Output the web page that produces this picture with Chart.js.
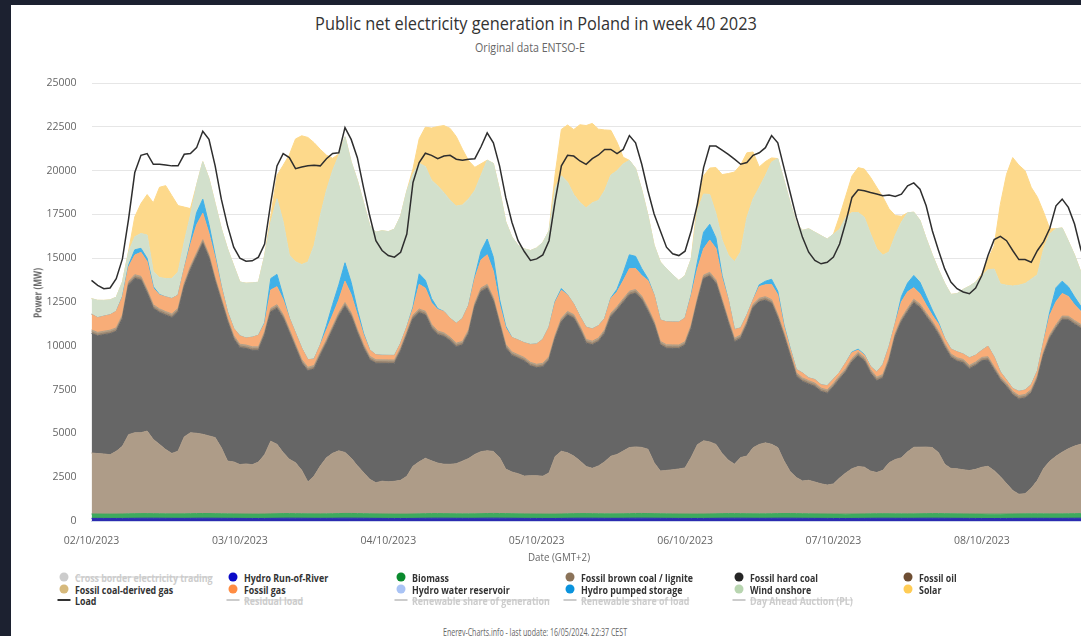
<!DOCTYPE html>
<html>
<head>
<meta charset="utf-8">
<title>Public net electricity generation in Poland in week 40 2023</title>
<script src="https://cdn.jsdelivr.net/npm/chart.js@4.4.1/dist/chart.umd.min.js"></script>
<style>
  html, body { margin: 0; padding: 0; }
  body { width: 1081px; height: 636px; overflow: hidden; position: relative; background: #1c2130; font-family: "Open Sans", sans-serif; }
  #card { position: absolute; left: 11px; top: 5px; width: 1200px; height: 700px; background: #ffffff; }
  #chartBox { position: absolute; left: 11px; top: 60px; width: 1150px; height: 500px; }
  .txt { position: absolute; white-space: nowrap; line-height: 1; }
  .dot { position: absolute; width: 9px; height: 9px; border-radius: 50%; transform: translate(-50%, -50%); }
  .dash { position: absolute; width: 13px; height: 2px; transform: translate(-50%, -50%); }
</style>
</head>
<body>
<div id="card"></div>
<div id="chartBox"><canvas id="chart" width="1150" height="500"></canvas></div>

<script>
// --- 1. THE DATA (MW, one value per hour, Monday 02/10 00:00 to Sunday 08/10 23:00) ---

const dayLabels = ['02/10/2023', '03/10/2023', '04/10/2023', '05/10/2023', '06/10/2023', '07/10/2023', '08/10/2023'];

const hydroRunOfRiver = [
  150,150,148,147,147,148,152,156,158,160,160,158,156,154,152,152,154,158,160,160,158,156,154,152,
  150,148,147,146,148,152,156,160,162,160,158,156,154,153,154,156,160,163,162,160,158,155,152,150,
  148,147,146,146,149,153,157,160,161,160,158,156,155,154,155,158,162,163,161,159,157,154,151,149,
  148,147,146,147,150,155,158,160,160,159,157,155,154,154,156,159,162,162,160,158,156,153,151,149,
  148,147,147,148,151,155,158,160,161,160,158,156,155,155,157,160,161,160,158,156,154,152,150,149,
  147,146,146,147,149,152,155,157,158,157,156,155,154,155,157,159,160,159,157,155,153,151,149,148,
  146,145,145,146,148,150,152,154,155,155,154,153,153,154,156,158,159,158,156,154,152,150,149,148
];

const biomass = [
  250,248,247,246,248,252,258,262,263,262,258,255,253,252,254,258,263,267,268,266,262,258,254,252,
  250,248,247,247,249,254,260,263,262,259,256,254,252,252,255,259,264,268,267,264,260,256,253,251,
  249,248,247,247,250,256,261,264,263,260,257,254,252,253,256,260,265,268,266,263,259,255,252,250,
  249,248,247,248,251,256,261,263,262,259,256,254,253,254,257,261,266,267,265,262,258,255,252,250,
  249,248,248,249,252,257,262,264,263,260,257,255,254,255,258,262,265,265,263,260,257,254,252,250,
  248,247,246,247,249,252,256,258,258,256,254,253,252,253,256,260,263,263,261,258,255,252,250,249,
  248,247,246,246,248,251,254,256,256,255,253,252,252,253,256,260,263,263,261,258,255,252,250,249
];

const brownCoal = [
  3480,3450,3430,3390,3580,3860,4520,4620,4620,4710,4240,3960,3670,3450,3580,4390,4620,4580,4520,4430,4340,3770,3010,2970,
  2820,2860,2820,2970,3390,4150,3960,3480,3100,2910,2480,1820,2160,2730,3200,3450,3580,3480,3160,2730,2350,1970,1780,1870,
  1840,1870,1930,2160,2730,2970,3160,3010,2880,2820,2820,2860,3010,3160,3390,3540,3580,3540,3200,2540,2380,2290,2160,2190,
  2190,2160,2350,3290,3580,3480,3290,3010,2690,2590,2730,2970,3290,3390,3580,3770,3800,3770,3670,2910,2440,2480,2520,2570,
  2630,3240,3960,4180,4110,3960,3430,3050,2820,3200,3290,3770,3960,4050,3960,3770,3010,2400,2060,1870,1910,1820,1720,1650,
  1720,2060,2350,2590,2710,2670,2440,2350,2480,2910,3100,3200,3540,3800,3800,3800,3770,3480,2820,2590,2570,2520,2480,2550,
  2670,2730,2480,2140,1740,1340,1120,1150,1460,1910,2590,3010,3290,3520,3710,3860,3960,4000,4000,3950,3900,3900,3850,3850
];

const hardCoal = [
  6820,6720,6810,6910,6850,7290,8530,8810,8710,7860,7480,7530,7670,7760,7950,8560,9280,10080,10890,10130,8900,8330,7950,7010,
  6670,6590,6530,6380,6820,7380,7760,7670,7200,6540,6120,6340,6110,6300,6530,7040,7670,8340,8090,7570,7100,6820,6820,6730,
  6760,6730,7370,8050,8420,8510,8180,7580,7330,7290,7050,6680,6630,7140,8430,9130,9280,8560,7570,6910,6650,6590,6570,6270,
  6160,6250,6440,6730,7380,7860,7860,7480,7040,7050,7100,7330,7960,8240,8480,8710,8770,8420,7860,7860,7200,6970,6930,6880,
  7010,7350,8140,9250,9470,9180,8580,7820,6980,6800,7480,7990,8140,8140,8050,7380,7100,6580,5780,5680,5490,5450,5270,5240,
  5550,5650,5770,6100,6320,6060,5590,5240,5260,5780,7010,7760,7990,8240,7960,7450,7000,6720,6680,6330,6140,6100,5810,5930,
  6080,6060,5740,5510,5530,5460,5430,5460,5430,5780,6480,7010,7300,7560,7350,6950,6630,6400,6200,6100,6050,6000,5950,5950
];

const fossilOil = [
  95,95,94,94,95,97,100,102,102,101,99,98,97,97,98,100,103,105,106,105,102,99,97,96,
  95,94,94,93,95,98,101,102,101,99,97,96,95,95,97,100,103,105,104,102,99,97,95,94,
  94,93,93,94,96,100,102,103,102,100,98,97,96,97,99,102,105,106,104,101,98,96,95,94,
  94,93,93,95,98,101,103,103,101,99,97,96,96,97,100,103,105,105,103,100,97,95,94,93,
  93,94,96,99,102,103,102,100,98,96,95,95,96,98,101,103,104,102,99,96,94,93,92,92,
  92,92,93,94,96,98,99,100,100,99,98,98,99,100,102,104,104,102,99,96,94,93,92,92,
  92,92,93,94,95,96,97,97,96,96,96,97,99,101,103,104,103,101,98,96,94,93,92,92
];

const coalDerivedGas = [
  105,105,104,104,105,106,108,110,110,109,108,107,106,106,107,109,111,112,113,112,110,108,106,105,
  105,104,104,103,105,107,109,110,109,108,107,106,105,105,107,109,111,112,111,110,108,106,105,104,
  104,103,103,104,106,108,110,111,110,109,107,106,106,107,108,110,112,113,111,109,107,106,105,104,
  104,103,103,105,107,109,111,111,109,108,107,106,106,107,109,111,112,112,110,108,106,105,104,103,
  103,104,106,108,110,111,110,109,107,106,105,105,106,107,109,111,111,110,108,106,104,103,102,102,
  102,102,103,104,106,107,108,108,108,107,107,107,108,109,110,112,112,110,108,106,104,103,102,102,
  102,102,103,104,105,106,106,106,106,106,106,107,108,110,111,112,111,109,107,105,104,103,102,102
];

const fossilGas = [
  900,840,860,880,940,1030,840,1120,1370,1600,940,790,840,880,750,840,1220,1600,1510,1220,1140,650,370,410,
  480,400,550,660,460,1050,1030,840,650,650,650,430,370,410,560,650,740,1220,1030,840,560,360,280,260,
  260,260,260,280,370,1410,1320,1220,1220,1220,1080,1130,1310,1410,1410,1600,1690,1500,940,940,820,840,840,1020,
  1160,1370,1690,1880,1600,940,600,550,700,700,700,650,840,840,1030,1280,1190,1170,1560,1510,1220,1310,1310,1310,
  1350,1690,1690,1500,1840,1790,1220,1130,500,400,370,240,670,680,860,1130,370,230,180,280,160,200,190,240,
  240,190,330,330,120,140,180,290,560,650,560,940,940,660,590,450,330,400,300,280,340,310,430,390,
  400,600,550,270,180,160,240,250,280,270,560,1120,1310,1290,1130,900,740,650,600,600,580,580,570,560
];

const pumpedStorage = [
  0,0,0,0,0,30,100,300,230,190,90,30,0,0,0,0,150,700,800,500,150,30,0,0,
  0,0,0,0,50,650,700,200,0,0,0,0,0,0,250,600,850,1050,700,300,80,0,0,0,
  0,0,0,0,100,600,450,250,60,0,0,0,0,0,100,500,900,800,300,100,0,0,0,0,
  0,0,0,50,100,0,0,0,0,0,0,0,30,150,450,800,700,400,100,0,0,0,0,0,
  0,50,400,950,900,600,150,0,0,0,0,0,100,200,300,200,80,30,0,0,0,0,0,0,
  0,0,0,30,60,30,0,0,0,0,0,300,500,700,650,500,300,100,0,0,0,0,0,0,
  0,0,0,0,0,0,0,0,0,0,0,200,800,700,550,450,300,150,0,0,0,0,0,0
];

const windOnshore = [
  890,990,900,850,810,830,750,740,850,1330,850,970,1050,1140,1320,1520,1550,1570,2140,2630,2960,3290,3600,3590,
  3070,3130,3100,3030,3830,3220,4320,4260,3600,4070,4770,5580,6480,7380,7710,7640,7390,7190,6880,7370,7450,7110,7000,7110,
  7060,7210,7260,7760,7580,6310,6490,6750,7000,6780,6730,6690,6480,6060,4920,4330,4500,5360,6240,5960,5740,5400,5360,5360,
  5480,5530,5490,6480,6440,6440,6250,6500,6810,7200,7150,7300,7020,6760,6220,5390,5020,4490,3630,2840,3310,3030,2690,2370,
  2420,2030,2920,2180,1700,1400,2020,2550,3870,4340,5560,5770,5560,6030,6690,7570,8250,8300,8330,8140,8510,8410,8510,8370,
  8270,8170,8280,7960,7800,7830,7570,7050,6250,5400,5020,4250,4010,3610,3540,3300,3150,3000,3140,3120,3320,3690,4090,4170,
  4260,4370,5020,5020,5410,5850,6060,6080,6020,5490,5300,4440,3370,3040,2610,2390,1970,1800,1700,1650,1600,1550,1500,1450
];

const solar = [
  0,0,0,0,0,0,50,1140,1710,2310,3940,5150,5300,4730,3790,1990,380,0,0,0,0,0,0,0,
  0,0,0,0,0,370,1330,3220,5720,7010,7350,7110,5870,3790,2020,700,80,0,0,0,0,0,0,0,
  0,0,0,0,300,1400,2250,2980,3390,3830,4110,3970,3180,2180,1320,660,0,0,0,0,0,0,0,0,
  0,0,0,800,2650,3260,3710,4440,4700,4530,4070,3460,2550,1630,380,0,0,0,0,0,0,0,0,0,
  0,0,470,1040,1510,2620,3740,4650,5120,4960,3700,2680,1170,800,240,0,0,0,0,0,0,0,0,0,
  0,750,1230,2090,2560,2750,3220,3500,3320,2460,1130,330,0,0,0,0,0,0,0,0,0,0,0,0,
  100,600,1330,4550,6330,7330,6850,6440,5240,4420,2090,290,0,0,0,0,0,0,0,0,0,0,0,0
];

const load = [
  13730,13450,13260,13300,13830,14960,17240,19890,20870,20970,20360,20360,20320,20270,20270,20930,20970,21310,22250,21780,20270,18370,16860,15630,
  15000,14830,14850,15060,15810,18180,20270,20970,20740,20110,20210,20270,20300,20270,20680,20980,21020,22450,21780,20740,19030,17420,16000,15440,
  15150,15060,15340,16380,19320,20460,20990,20870,20680,20830,20870,20650,20590,20650,20680,21360,22150,21590,20270,18470,17050,16000,15380,14870,
  14960,15190,16000,18280,20270,20870,20830,20550,20360,20680,20890,21210,21210,20970,21210,22000,21590,20360,18850,17520,16570,15630,15250,15150,
  15400,16570,18090,20170,21400,21400,21170,20930,20650,20360,20460,20870,21020,21310,22000,21590,20170,18750,17330,16190,15340,14870,14680,14770,
  15060,15810,17050,18470,18900,18850,18750,18660,18560,18600,18520,18660,19130,19300,18940,17990,16570,15440,14390,13640,13260,13070,12970,13300,
  14010,15150,16060,16250,16000,15440,14920,14920,14770,15440,15950,16710,17990,18370,17900,16950,15530,14500,13900,13500,13300,13200,13150,13100
];

// legend rows as shown under the chart: [name, colour, symbol, switched off]
const legendRows = [
  [['Cross border electricity trading', '#cccccc', 'dot', true], ['Hydro Run-of-River', '#0a0ac8', 'dot', false], ['Biomass', '#0a8a2e', 'dot', false],
   ['Fossil brown coal / lignite', '#8b7359', 'dot', false], ['Fossil hard coal', '#252525', 'dot', false], ['Fossil oil', '#6e4e33', 'dot', false]],
  [['Fossil coal-derived gas', '#d6b97c', 'dot', false], ['Fossil gas', '#ff8c42', 'dot', false], ['Hydro water reservoir', '#a9c3f5', 'dot', false],
   ['Hydro pumped storage', '#0a93dd', 'dot', false], ['Wind onshore', '#b8d5b0', 'dot', false], ['Solar', '#ffcc55', 'dot', false]],
  [['Load', '#333333', 'dash', false], ['Residual load', '#cccccc', 'dash', true], ['Renewable share of generation', '#cccccc', 'dash', true],
   ['Renewable share of load', '#cccccc', 'dash', true], ['Day Ahead Auction (PL)', '#cccccc', 'dash', true]]
];


// --- 2. TEXT AROUND THE CHART ---
// The original uses a narrow font, so we squeeze Open Sans to the widths seen in the picture.

const measureCtx = document.createElement('canvas').getContext('2d');
function textWidth(str, font) {
  measureCtx.font = font;
  return measureCtx.measureText(str).width;
}

function addText(str, cx, cy, size, weight, color, width, rotate) {
  const el = document.createElement('div');
  const font = weight + ' ' + size + 'px "Open Sans"';
  el.className = 'txt';
  el.textContent = str;
  el.style.font = font;
  el.style.color = color;
  el.style.left = cx + 'px';
  el.style.top = cy + 'px';
  const sx = width / textWidth(str, font);
  el.style.transform = 'translate(-50%, -50%)' + (rotate ? ' rotate(-90deg)' : '') + ' scaleX(' + sx.toFixed(3) + ')';
  document.body.appendChild(el);
}

addText('Public net electricity generation in Poland in week 40 2023', 536, 23, 18, 400, '#333333', 442);
addText('Original data ENTSO-E', 530, 47, 12, 400, '#666666', 110);
addText('Power (MW)', 37, 293, 11, 700, '#666666', 50, true);
addText('Date (GMT+2)', 559, 556, 11, 400, '#666666', 62);
addText('Energy-Charts.info - last update: 16/05/2024, 22:37 CEST', 535, 632, 10, 400, '#666666', 184);

// legend
const legendFont = '700 11px "Open Sans"';
const legendScale = 112 / textWidth('Fossil brown coal / lignite', legendFont);
const colX = [64, 233, 401, 570, 739, 908];
const rowY = [577, 589, 600];

legendRows.forEach(function (row, r) {
  row.forEach(function (item, c) {
    const mark = document.createElement('div');
    mark.className = item[2];
    mark.style.background = item[1];
    mark.style.left = colX[c] + 'px';
    mark.style.top = rowY[r] + 'px';
    document.body.appendChild(mark);

    const label = document.createElement('div');
    label.className = 'txt';
    label.textContent = item[0];
    label.style.font = legendFont;
    label.style.color = item[3] ? '#cccccc' : '#333333';
    if (item[3]) label.style.textDecoration = 'line-through';
    label.style.left = (colX[c] + 11) + 'px';
    label.style.top = rowY[r] + 'px';
    label.style.transformOrigin = 'left center';
    label.style.transform = 'translateY(-50%) scaleX(' + legendScale.toFixed(3) + ')';
    document.body.appendChild(label);
  });
});


// --- 3. THE CHART ---

const labels = [];
dayLabels.forEach(function (day) {
  for (let h = 0; h < 24; h++) labels.push(day + ' ' + String(h).padStart(2, '0') + ':00');
});

// one stacked area layer
function area(name, values, colour, first) {
  return {
    label: name,
    data: values,
    backgroundColor: colour,
    borderColor: colour,
    borderWidth: 1,
    fill: first ? 'origin' : '-1',
    pointRadius: 0,
    tension: 0
  };
}

const datasets = [
  area('Hydro Run-of-River', hydroRunOfRiver, '#2b2bb0', true),
  area('Biomass', biomass, '#3eaa5e'),
  area('Fossil brown coal / lignite', brownCoal, '#ae9c88'),
  area('Fossil hard coal', hardCoal, '#666666'),
  area('Fossil oil', fossilOil, '#98846f'),
  area('Fossil coal-derived gas', coalDerivedGas, '#b29e85'),
  area('Fossil gas', fossilGas, '#f8ad78'),
  area('Hydro pumped storage', pumpedStorage, '#40b1e8'),
  area('Wind onshore', windOnshore, '#d2e0cc'),
  area('Solar', solar, '#fdd98b'),
  {
    label: 'Load',
    data: load,
    stack: 'load',
    fill: false,
    borderColor: '#2e2e2e',
    borderWidth: 1.5,
    pointRadius: 0,
    tension: 0,
    order: -1
  }
];

const tickFont = { family: '"Open Sans"', size: 10.5 };

new Chart(document.getElementById('chart'), {
  type: 'line',
  data: { labels: labels, datasets: datasets },
  options: {
    responsive: false,
    animation: false,
    devicePixelRatio: 1,
    layout: { padding: { top: 23, right: 37, left: 0, bottom: 0 } },
    plugins: { legend: { display: false }, tooltip: { enabled: false } },
    scales: {
      x: {
        grid: { display: false },
        border: { display: true, color: '#ccd6eb' },
        ticks: {
          autoSkip: false,
          maxRotation: 0,
          padding: 6,
          color: '#666666',
          font: tickFont,
          callback: function (value, i) { return i % 24 === 0 ? dayLabels[i / 24] : ''; }
        },
        afterFit: function (scale) { scale.height = 39; }
      },
      y: {
        stacked: true,
        min: 0,
        max: 25000,
        ticks: {
          stepSize: 2500,
          padding: 15,
          color: '#666666',
          font: tickFont,
          callback: function (value) { return String(value); } // no thousands comma
        },
        grid: { color: '#e6e6e6', drawTicks: false },
        border: { display: false },
        afterFit: function (scale) { scale.width = 80.5; }
      }
    }
  }
});
</script>
</body>
</html>
